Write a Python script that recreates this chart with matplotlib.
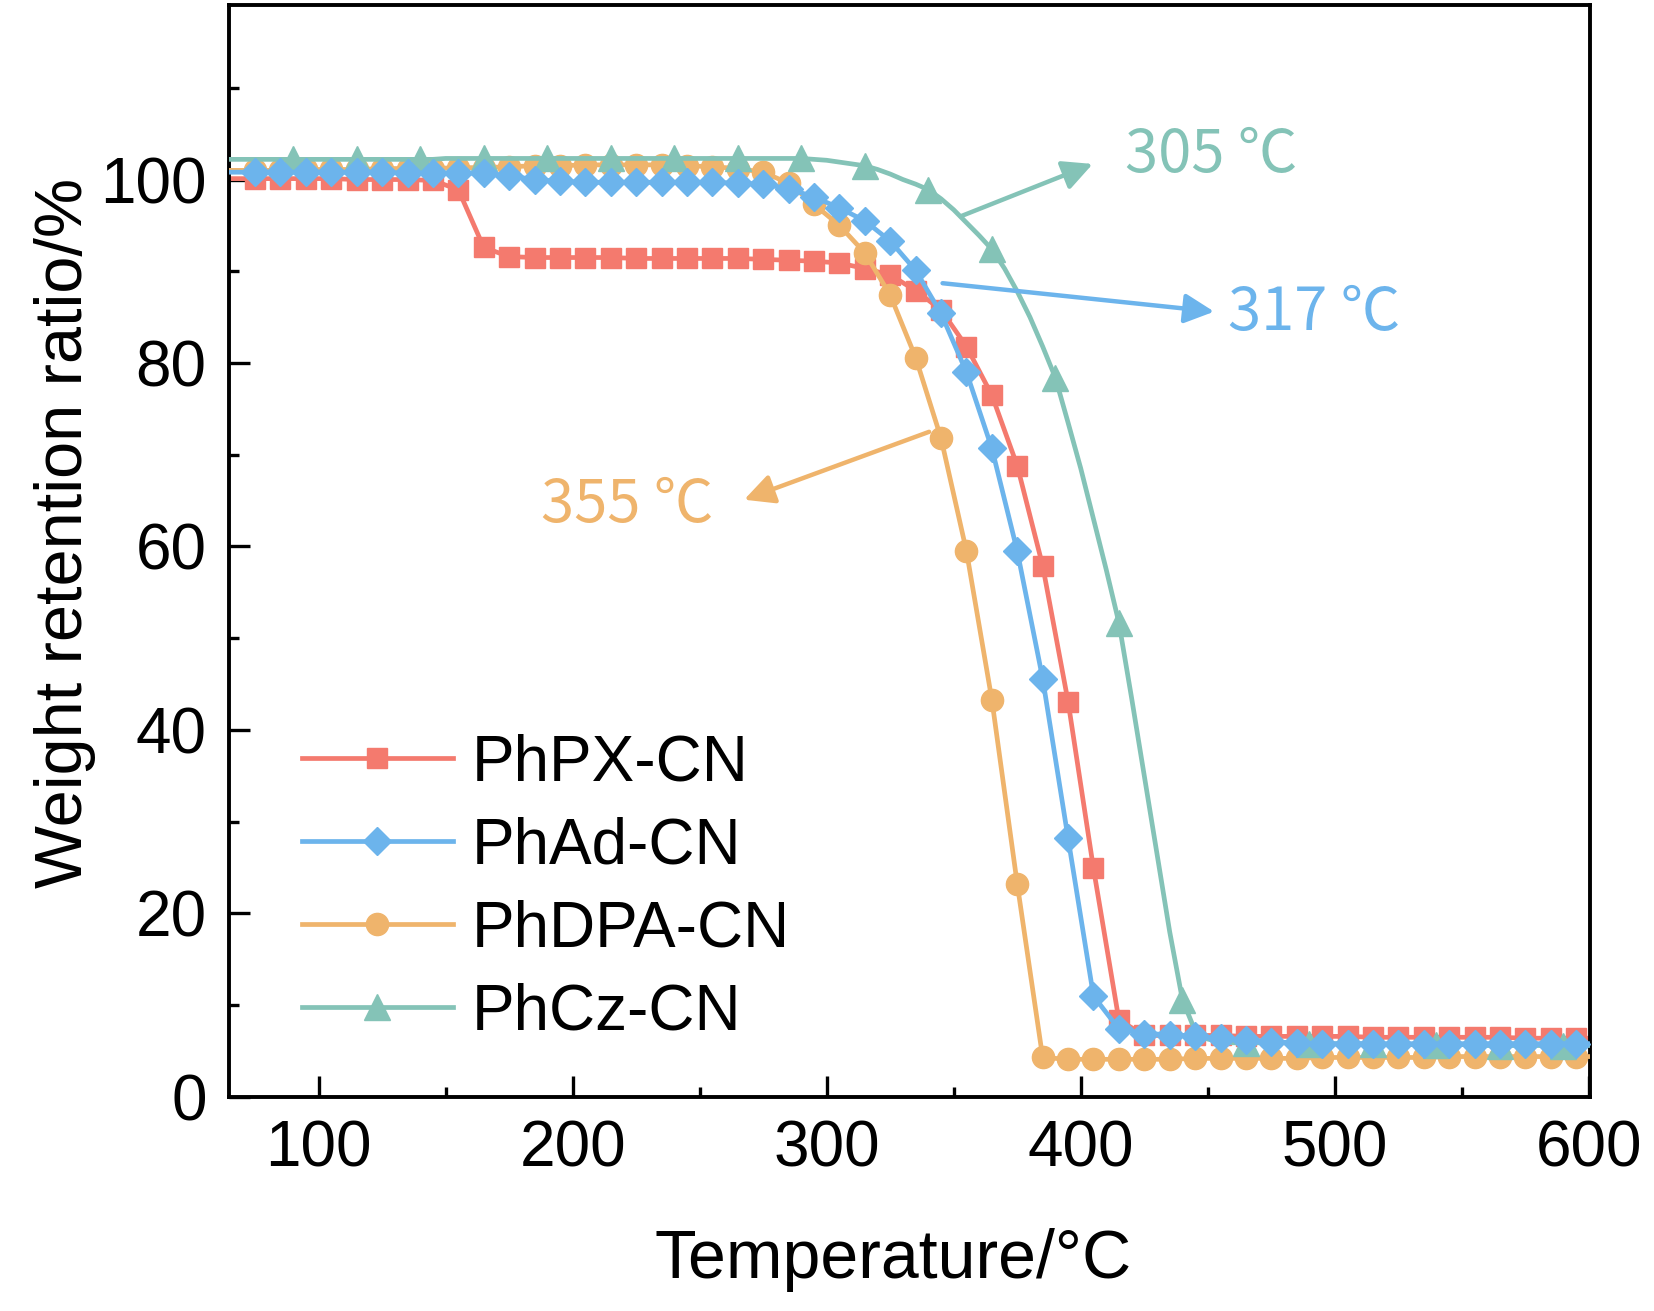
import numpy as np
import matplotlib
matplotlib.use('Agg')
import matplotlib.pyplot as plt
from matplotlib.ticker import MultipleLocator

plt.rcParams['font.family'] = ['Liberation Sans', 'Noto Sans CJK SC', 'DejaVu Sans']

# temperature grids (°C)
temp10 = np.r_[65, np.arange(75, 600, 10), 600]
temp5 = np.arange(65, 601, 5)

phpx = [100.1,
        100.1, 100.1, 100.1, 100.1, 100.0, 100.0, 100.0, 99.9,
        98.9, 92.6, 91.6, 91.5, 91.5, 91.5, 91.5, 91.4, 91.4, 91.4,
        91.4, 91.4, 91.3, 91.2, 91.1, 90.9, 90.3, 89.6, 87.9, 85.8,
        81.8, 76.5, 68.8, 57.9, 43.1, 24.9, 8.4, 6.7, 6.7,
        6.7, 6.7, 6.6, 6.6, 6.6, 6.6, 6.6, 6.5, 6.5, 6.5, 6.5, 6.5, 6.5, 6.4, 6.4, 6.4,
        6.4]
phad = [100.8,
        100.8, 100.8, 100.8, 100.8, 100.8, 100.8, 100.7, 100.7, 100.7, 100.7,
        100.4, 100.0, 99.8, 99.7, 99.7, 99.7, 99.7, 99.7, 99.7, 99.6,
        99.5, 99.0, 98.1, 96.9, 95.5, 93.3, 90.1, 85.4, 79.0, 70.7,
        59.5, 45.6, 28.2, 11.0, 7.4, 6.9, 6.8, 6.6, 6.4, 6.2, 6.0, 5.9,
        5.8, 5.8, 5.8, 5.8, 5.8, 5.8, 5.8, 5.8, 5.8, 5.8, 5.8,
        5.8]
phdpa = [101.0,
         101.0, 101.0, 101.1, 101.1, 101.1, 101.2, 101.2, 101.2, 101.3, 101.3,
         101.4, 101.5, 101.5, 101.6, 101.6, 101.6, 101.6, 101.5, 101.4, 101.2,
         100.8, 99.6, 97.3, 95.0, 92.0, 87.4, 80.6, 71.8, 59.5, 43.3, 23.2, 4.3,
         4.1, 4.1, 4.1, 4.1, 4.1, 4.2, 4.2, 4.2, 4.2, 4.2, 4.3,
         4.3, 4.3, 4.3, 4.3, 4.4, 4.4, 4.4, 4.4, 4.4, 4.4,
         4.4]
phcz = [102.2, 102.2, 102.2, 102.2, 102.2, 102.2, 102.2, 102.2, 102.2, 102.2,
        102.2, 102.2, 102.2, 102.2, 102.2, 102.2, 102.2, 102.3, 102.3, 102.3,
        102.3, 102.3, 102.3, 102.3, 102.3, 102.3, 102.3, 102.3, 102.3, 102.3,
        102.3, 102.3, 102.3, 102.3, 102.3, 102.3, 102.3, 102.3, 102.3, 102.3,
        102.3, 102.3, 102.3, 102.3, 102.3,
        102.3, 102.2, 102.1, 101.9, 101.7, 101.5, 101.1, 100.6, 100.0, 99.5,
        98.9, 97.9, 96.7, 95.3, 93.9, 92.4, 90.3, 87.8, 85.0, 81.8,
        78.4, 73.5, 68.5, 63.0, 57.5, 51.7, 43.5, 35.0, 26.5, 18.0,
        10.6, 7.2, 6.3, 6.0,
        5.9, 5.9, 5.9, 5.9, 5.9, 5.8, 5.8, 5.8, 5.8, 5.8,
        5.8, 5.8, 5.7, 5.7, 5.7, 5.7, 5.7, 5.7, 5.7, 5.7,
        5.6, 5.6, 5.6, 5.6, 5.6, 5.6, 5.6, 5.6, 5.6]

RED = '#F47A6E'
BLUE = '#6CB4EC'
ORANGE = '#EFB46C'
TEAL = '#84C3B7'

fig = plt.figure(figsize=(16.54, 13.11), dpi=100)
ax = fig.add_axes([0.1384, 0.1633, 0.8227, 0.8327])

lw = 3.4
ax.plot(temp10, phpx, color=RED, lw=lw, marker='s', ms=14, markevery=slice(1, -1),
        label='PhPX-CN', zorder=2)
ax.plot(temp5, phcz, color=TEAL, lw=lw, marker='^', ms=19, markevery=slice(5, None, 5),
        label='PhCz-CN', zorder=4)
ax.plot(temp10, phdpa, color=ORANGE, lw=lw, marker='o', ms=16, markevery=slice(1, -1),
        label='PhDPA-CN', zorder=3)
ax.plot(temp10, phad, color=BLUE, lw=lw, marker='D', ms=14, markevery=slice(1, -1),
        label='PhAd-CN', zorder=5)

# annotations (onset temperatures)
arrow = dict(arrowstyle='-|>', lw=3.2, mutation_scale=45, shrinkA=0, shrinkB=0)
note_font = ['Noto Sans CJK SC', 'DejaVu Sans']
ax.annotate('', xy=(404.7, 101.7), xytext=(352.8, 96.0),
            arrowprops=dict(arrow, color=TEAL), zorder=6)
ax.text(417.6, 102.6, '305 \u2103', color=TEAL, fontsize=43, va='center', ha='left',
        family=note_font)
ax.annotate('', xy=(452.5, 85.6), xytext=(345.6, 88.7),
            arrowprops=dict(arrow, color=BLUE), zorder=6)
ax.text(457.9, 85.4, '317 \u2103', color=BLUE, fontsize=43, va='center', ha='left',
        family=note_font)
ax.annotate('', xy=(267.5, 65.1), xytext=(340.3, 72.5),
            arrowprops=dict(arrow, color=ORANGE), zorder=6)
ax.text(187.5, 64.5, '355 \u2103', color=ORANGE, fontsize=43, va='center', ha='left',
        family=note_font)

ax.set_xlim(64.7, 600.3)
ax.set_ylim(0, 119)
ax.xaxis.set_major_locator(MultipleLocator(100))
ax.xaxis.set_minor_locator(MultipleLocator(50))
ax.yaxis.set_major_locator(MultipleLocator(20))
ax.yaxis.set_minor_locator(MultipleLocator(10))
ax.tick_params(which='both', direction='in', width=2.4, labelsize=46, top=False, right=False)
ax.tick_params(which='major', length=15, pad=16)
ax.tick_params(which='minor', length=7)
for s in ax.spines.values():
    s.set_linewidth(2.8)

ax.set_xlabel('Temperature/°C', fontsize=49)
ax.set_ylabel('Weight retention ratio/%', fontsize=48)
ax.xaxis.set_label_coords(0.488, -0.12)
ax.yaxis.set_label_coords(-0.098, 0.517)

handles, labels = ax.get_legend_handles_labels()
order = [labels.index(n) for n in ['PhPX-CN', 'PhAd-CN', 'PhDPA-CN', 'PhCz-CN']]
ax.legend([handles[i] for i in order], [labels[i] for i in order],
          loc='lower left', bbox_to_anchor=(0.054, 0.05), frameon=False,
          fontsize=46, borderpad=0, borderaxespad=0, handlelength=2.35,
          handletextpad=0.3, labelspacing=0.36)

fig.savefig('out.png', dpi=100, facecolor='white')
